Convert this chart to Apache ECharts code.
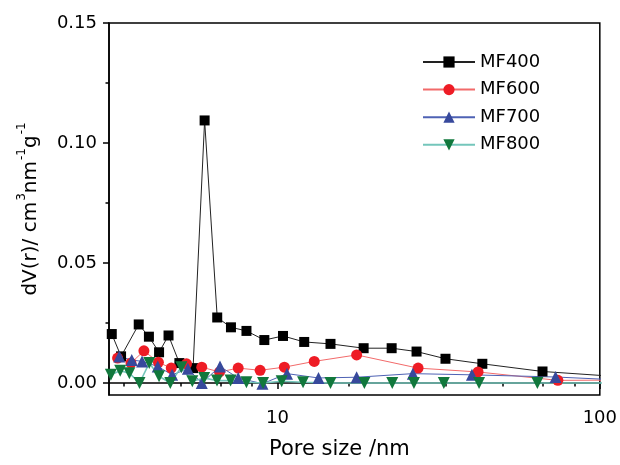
<!DOCTYPE html>
<html>
<head>
<meta charset="utf-8">
<script src="https://cdn.jsdelivr.net/npm/echarts@6/dist/echarts.min.js"></script>
<style>html,body{margin:0;padding:0;background:#fff}#c{width:620px;height:465px}</style>
</head>
<body>
<div id="c"></div>
<script>
var seriesNames = ['MF400', 'MF600', 'MF700', 'MF800'];
var mf400X = [3.06,3.27,3.71,3.99,4.29,4.59,4.96,5.47,5.94,6.50,7.17,8.01,9.10,10.4,12.1,14.6,18.5,22.6,27.0,33.2,43.2,66.4,110];
var mf400Y = [0.0204,0.0111,0.0244,0.0193,0.0128,0.0198,0.0083,0.0062,0.1094,0.0273,0.0232,0.0217,0.0179,0.0196,0.0171,0.0163,0.0145,0.0145,0.0131,0.0101,0.0080,0.0048,0.0028];
var mf600X = [3.19,3.51,3.85,4.27,4.68,5.22,5.82,6.61,7.55,8.83,10.5,13.0,17.6,27.3,41.9,74.1,110];
var mf600Y = [0.0104,0.0083,0.0134,0.0086,0.0062,0.0080,0.0066,0.0046,0.0062,0.0053,0.0066,0.0090,0.0117,0.0062,0.0046,0.0011,0.0012];
var mf700X = [3.23,3.53,3.80,4.25,4.71,5.27,5.82,6.63,7.55,8.98,10.7,13.4,17.6,26.3,40.1,72.9,110];
var mf700Y = [0.0110,0.0096,0.0090,0.0069,0.0034,0.0059,0.0000,0.0069,0.0021,-0.0003,0.0039,0.0021,0.0024,0.0039,0.0034,0.0025,0.0014];
var mf800X = [3.04,3.25,3.47,3.73,4.00,4.29,4.65,5.03,5.44,5.92,6.49,7.15,8.01,9.02,10.3,12.0,14.6,18.6,22.7,26.5,32.8,42.2,64.0,110];
var mf800Y = [0.0034,0.0051,0.0041,0.0000,0.0083,0.0028,0.0000,0.0066,0.0007,0.0021,0.0010,0.0010,0.0003,0.0000,0.0007,0.0003,0.0000,0.0000,0.0000,0.0000,0.0000,0.0000,0.0000,0.0000];

var xMajorTicks = [10, 100];
var xMinorTicks = [3.3333, 5, 6.6667, 8.3333, 16.667, 33.333, 50, 66.667, 83.333];
var yMajorTicks = [0, 0.05, 0.10, 0.15];
var yMinorTicks = [0.025, 0.075, 0.125];

function pairs(xs, ys) { return xs.map(function (x, i) { return [x, ys[i]]; }); }

var FONT = 'DejaVu Sans';
var chart = echarts.init(document.getElementById('c'), null, {renderer: 'canvas'});
var lineCols = ['#222222', '#f26a6a', '#4e62b4', '#74c6bb'];
var markCols = ['#000000', '#ee1c25', '#37499c', '#11783c'];
var symbols = ['rect', 'circle', 'triangle', 'triangle'];
var sizes = [10, 11, 12, 12];
var rotates = [0, 0, 0, 180];
var lws = [1, 1, 1, 1.6];
var datas = [pairs(mf400X, mf400Y), pairs(mf600X, mf600Y), pairs(mf700X, mf700Y), pairs(mf800X, mf800Y)];

var series = seriesNames.map(function (n, i) {
  return {
    name: n, type: 'line', xAxisIndex: 0, yAxisIndex: 0,
    data: datas[i], symbol: symbols[i], symbolSize: sizes[i], symbolRotate: rotates[i],
    showAllSymbol: true, clip: true, animation: false,
    lineStyle: {color: lineCols[i], width: lws[i]},
    itemStyle: {color: markCols[i], borderWidth: 0}
  };
});

var option = {
  animation: false,
  backgroundColor: '#fff',
  grid: {left: 109, right: 20, top: 23, bottom: 68, show: true, borderColor: '#000', borderWidth: 1.5, backgroundColor: 'transparent'},
  legend: {
    orient: 'vertical', left: 417, top: 47, itemWidth: 52, itemHeight: 14, itemGap: 7.6,
    data: seriesNames,
    textStyle: {fontFamily: FONT, fontSize: 18, color: '#000', lineHeight: 20}
  },
  xAxis: [{
    type: 'log', logBase: 10, min: 3, max: 100, position: 'bottom',
    axisLine: {show: true, lineStyle: {color: '#000', width: 1.5}},
    axisTick: {show: true, inside: false, length: 6, customValues: xMajorTicks, lineStyle: {color: '#000', width: 1.5}},
    axisLabel: {show: true, customValues: xMajorTicks, margin: 14, fontFamily: FONT, fontSize: 18, color: '#000'},
    splitLine: {show: false}, minorTick: {show: false},
    name: 'Pore size /nm', nameLocation: 'middle', nameGap: 44,
    nameTextStyle: {fontFamily: FONT, fontSize: 21, color: '#000', padding: [0, 30, 0, 0]}
  }, {
    type: 'log', logBase: 10, min: 3, max: 100, position: 'bottom', offset: 0,
    axisLine: {show: false},
    axisTick: {show: true, length: 3.5, customValues: xMinorTicks, lineStyle: {color: '#000', width: 1.5}},
    axisLabel: {show: false}, splitLine: {show: false}
  }],
  yAxis: [{
    type: 'value', min: -0.005, max: 0.15, position: 'left',
    axisLine: {show: true, lineStyle: {color: '#000', width: 1.5}},
    axisTick: {show: true, length: 6, customValues: yMajorTicks, lineStyle: {color: '#000', width: 1.5}},
    axisLabel: {show: true, customValues: yMajorTicks, margin: 12, fontFamily: FONT, fontSize: 18, color: '#000',
      formatter: function (v) { return Number(v).toFixed(2); }},
    splitLine: {show: false},
    name: 'dV(r)/ cm{s|3}nm{s|-1}g{s|-1}', nameLocation: 'middle', nameRotate: 90, nameGap: 66,
    nameTextStyle: {fontFamily: FONT, fontSize: 20, color: '#000', lineHeight: 30, verticalAlign: 'middle',
      rich: {s: {fontFamily: FONT, fontSize: 12, color: '#000', verticalAlign: 'top', lineHeight: 30, padding: [0, 0, 0, 1]}}}
  }, {
    type: 'value', min: -0.005, max: 0.15, position: 'left', offset: 0,
    axisLine: {show: false},
    axisTick: {show: true, length: 3.5, customValues: yMinorTicks, lineStyle: {color: '#000', width: 1.5}},
    axisLabel: {show: false}, splitLine: {show: false}
  }],
  series: series
};
chart.setOption(option);
</script>
</body>
</html>
